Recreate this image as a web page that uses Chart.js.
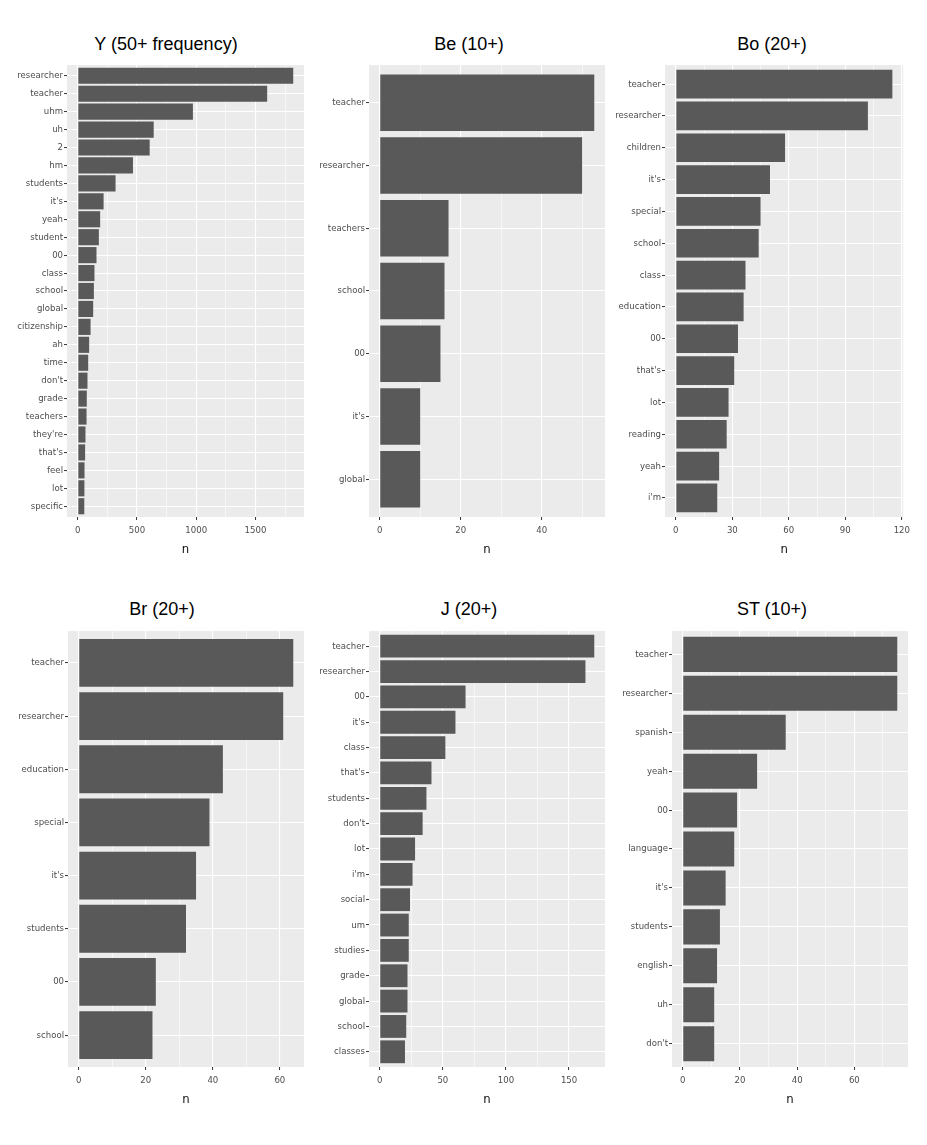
<!DOCTYPE html>
<html>
<head>
<meta charset="utf-8">
<script src="https://cdn.jsdelivr.net/npm/chart.js@4.4.1/dist/chart.umd.min.js"></script>
<style>
  body { margin: 0; background: #fff; }
  #wrap { position: relative; width: 927px; height: 1145px; overflow: hidden; }
  #wrap canvas { position: absolute; }
  .ttl {
    position: absolute;
    transform: translate(-50%, -50%);
    white-space: nowrap;
    font: 18px "Liberation Sans", Arial, sans-serif;
    color: #000;
  }
</style>
</head>
<body>
<div id="wrap">
  <div class="ttl" style="left:166px;top:44px">Y (50+ frequency)</div>
  <div class="ttl" style="left:469px;top:44px">Be (10+)</div>
  <div class="ttl" style="left:772px;top:44px">Bo (20+)</div>
  <div class="ttl" style="left:162px;top:609px">Br (20+)</div>
  <div class="ttl" style="left:469px;top:609px">J (20+)</div>
  <div class="ttl" style="left:772px;top:609px">ST (10+)</div>
  <canvas id="cY" width="314" height="500" style="left:0px;top:57px"></canvas>
  <canvas id="cBe" width="313" height="500" style="left:302px;top:57px"></canvas>
  <canvas id="cBo" width="317" height="500" style="left:598px;top:57px"></canvas>
  <canvas id="cBr" width="313" height="484" style="left:1px;top:623px"></canvas>
  <canvas id="cJ" width="313" height="484" style="left:302px;top:623px"></canvas>
  <canvas id="cST" width="313" height="484" style="left:605px;top:623px"></canvas>
</div>
<script>
// ── Data (top bar first) ──
const yWords = ["researcher", "teacher", "uhm", "uh", "2", "hm", "students", "it's", "yeah", "student", "00", "class", "school", "global", "citizenship", "ah", "time", "don't", "grade", "teachers", "they're", "that's", "feel", "lot", "specific"];
const yCounts = [1819, 1599, 972, 641, 607, 466, 319, 218, 189, 178, 158, 141, 136, 130, 108, 96, 88, 82, 76, 74, 65, 62, 57, 56, 55];
const yTicks = [0, 500, 1000, 1500];
const yMinor = [250, 750, 1250, 1750];

const beWords = ["teacher", "researcher", "teachers", "school", "00", "it's", "global"];
const beCounts = [53, 50, 17, 16, 15, 10, 10];
const beTicks = [0, 20, 40];
const beMinor = [10, 30, 50];

const boWords = ["teacher", "researcher", "children", "it's", "special", "school", "class", "education", "00", "that's", "lot", "reading", "yeah", "i'm"];
const boCounts = [115, 102, 58, 50, 45, 44, 37, 36, 33, 31, 28, 27, 23, 22];
const boTicks = [0, 30, 60, 90, 120];
const boMinor = [15, 45, 75, 105];

const brWords = ["teacher", "researcher", "education", "special", "it's", "students", "00", "school"];
const brCounts = [64, 61, 43, 39, 35, 32, 23, 22];
const brTicks = [0, 20, 40, 60];
const brMinor = [10, 30, 50];

const jWords = ["teacher", "researcher", "00", "it's", "class", "that's", "students", "don't", "lot", "i'm", "social", "um", "studies", "grade", "global", "school", "classes"];
const jCounts = [170, 163, 68, 60, 52, 41, 37, 34, 28, 26, 24, 23, 23, 22, 22, 21, 20];
const jTicks = [0, 50, 100, 150];
const jMinor = [25, 75, 125];

const stWords = ["teacher", "researcher", "spanish", "yeah", "00", "language", "it's", "students", "english", "uh", "don't"];
const stCounts = [75, 75, 36, 26, 19, 18, 15, 13, 12, 11, 11];
const stTicks = [0, 20, 40, 60];
const stMinor = [10, 30, 50, 70];

// Chart global defaults
Chart.defaults.font.family = "'Liberation Sans Narrow', 'DejaVu Sans Condensed', sans-serif";
Chart.defaults.font.size = 9.5;
Chart.defaults.color = "#4d4d4d";

const BAR = "#595959";
const PANEL = "#ebebeb";

// grey panel behind the grid
const panelBg = {
  id: "panelBg",
  beforeDraw(chart) {
    const { ctx, chartArea: a } = chart;
    ctx.save();
    ctx.fillStyle = PANEL;
    ctx.fillRect(a.left, a.top, a.width, a.height);
    ctx.restore();
  },
};

function makePanel(id, words, counts, major, minor) {
  const top = Math.max(...counts);
  new Chart(document.getElementById(id), {
    type: "bar",
    data: {
      datasets: [
        {
          data: counts.map((v, i) => ({ x: v, y: i })),
          backgroundColor: BAR,
          borderWidth: 0,
          barPercentage: 0.9,
          categoryPercentage: 1,
        },
      ],
    },
    plugins: [panelBg],
    options: {
      indexAxis: "y",
      responsive: false,
      animation: false,
      layout: { padding: { left: 0, top: 8, right: 10, bottom: 0 } },
      plugins: { legend: { display: false }, tooltip: { enabled: false } },
      scales: {
        x: {
          type: "linear",
          min: -0.05 * top,
          max: 1.05 * top,
          afterBuildTicks: (s) => {
            s.ticks = major
              .map((v) => ({ value: v }))
              .concat(minor.map((v) => ({ value: v, minor: true })))
              .sort((a, b) => a.value - b.value);
          },
          afterFit: (s) => { s.height = 40; },
          border: { display: false },
          grid: {
            color: "#ffffff",
            lineWidth: (c) => (c.tick && c.tick.minor ? 0.55 : 1.1),
            tickColor: (c) => (c.tick && c.tick.minor ? "rgba(0,0,0,0)" : "#333333"),
            tickLength: 3,
            tickWidth: 1,
          },
          ticks: {
            autoSkip: false,
            maxRotation: 0,
            padding: 5,
            callback: (v, i, ticks) => (ticks[i].minor ? "" : String(v)),
          },
          title: {
            display: true,
            text: "n",
            color: "#111",
            font: { size: 13 },
            padding: { top: 0, bottom: 0 },
          },
        },
        y: {
          type: "linear",
          reverse: true,
          offset: false,
          min: -0.6,
          max: words.length - 0.4,
          afterBuildTicks: (s) => {
            s.ticks = words.map((w, i) => ({ value: i }));
          },
          afterFit: (s) => { s.width = 67; },
          border: { display: false },
          grid: {
            offset: false,
            color: "#ffffff",
            lineWidth: 1.1,
            tickColor: "#333333",
            tickLength: 3,
            tickWidth: 1,
          },
          ticks: {
            autoSkip: false,
            padding: 1,
            callback: (v) => words[v],
          },
        },
      },
    },
  });
}

makePanel("cY", yWords, yCounts, yTicks, yMinor);
makePanel("cBe", beWords, beCounts, beTicks, beMinor);
makePanel("cBo", boWords, boCounts, boTicks, boMinor);
makePanel("cBr", brWords, brCounts, brTicks, brMinor);
makePanel("cJ", jWords, jCounts, jTicks, jMinor);
makePanel("cST", stWords, stCounts, stTicks, stMinor);
</script>
</body>
</html>
